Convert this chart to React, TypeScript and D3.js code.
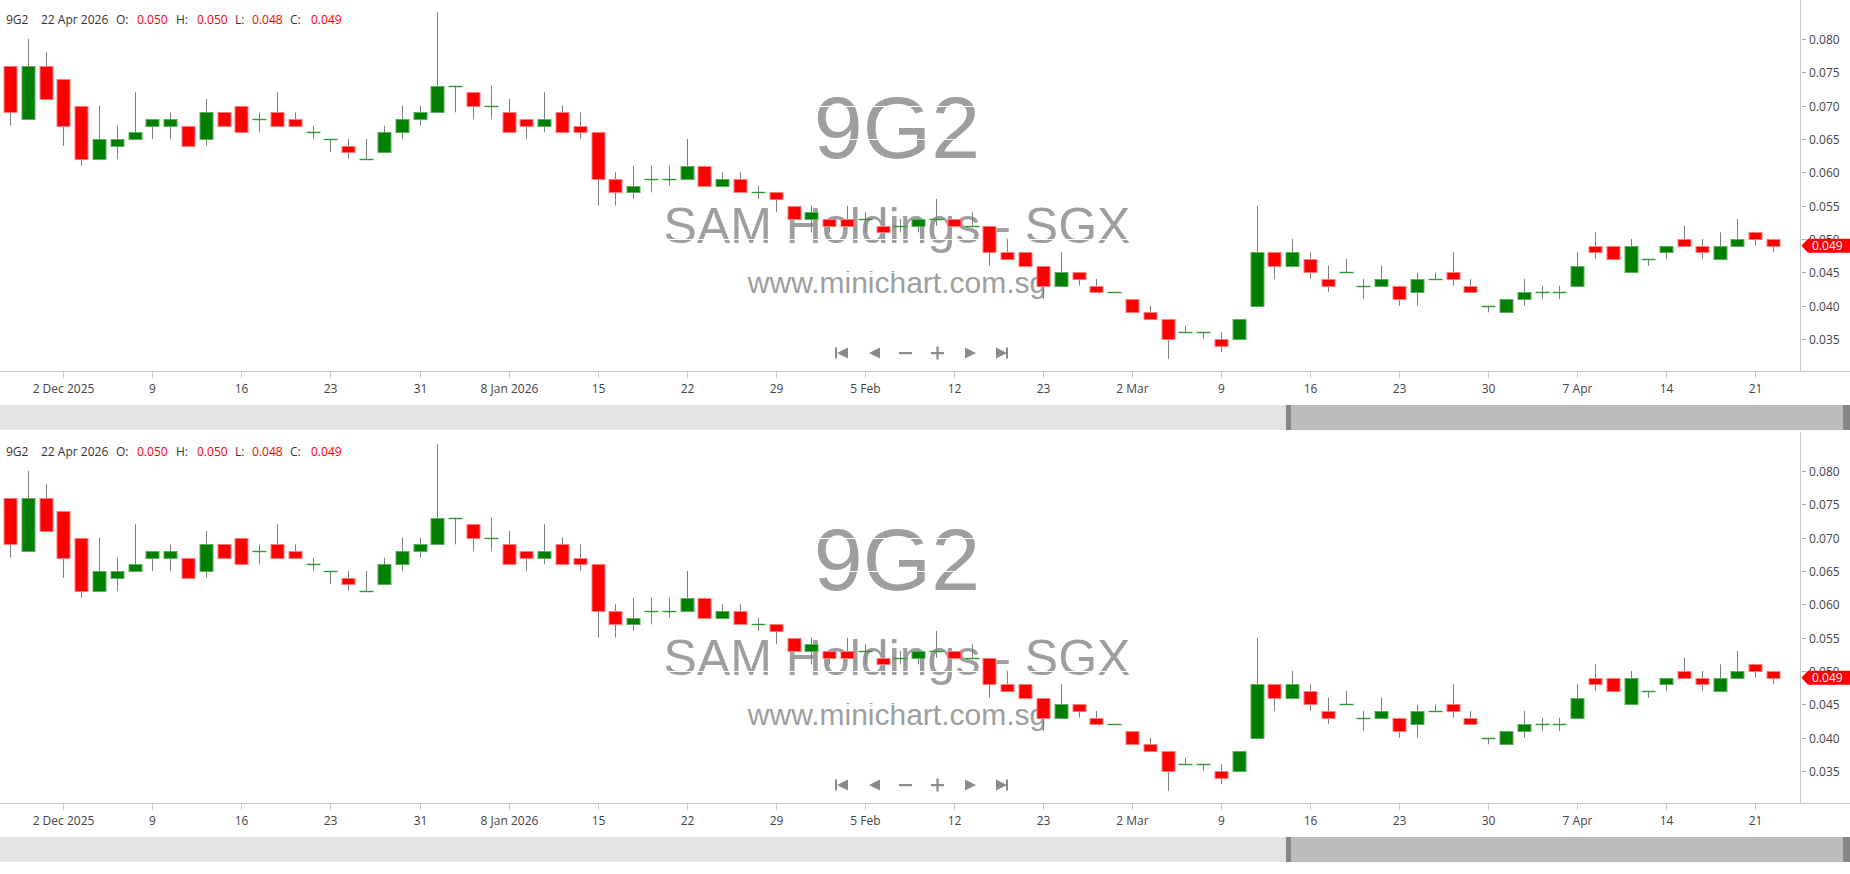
import React from "react";
import * as d3 from "d3";

// ---- Data ----
const dates: string[] = [
  "2025-11-27", "2025-11-28", "2025-12-01", "2025-12-02", "2025-12-03", "2025-12-04", "2025-12-05",
  "2025-12-08", "2025-12-09", "2025-12-10", "2025-12-11", "2025-12-12", "2025-12-15", "2025-12-16",
  "2025-12-17", "2025-12-18", "2025-12-19", "2025-12-22", "2025-12-23", "2025-12-24", "2025-12-26",
  "2025-12-29", "2025-12-30", "2025-12-31", "2026-01-02", "2026-01-05", "2026-01-06", "2026-01-07",
  "2026-01-08", "2026-01-09", "2026-01-12", "2026-01-13", "2026-01-14", "2026-01-15", "2026-01-16",
  "2026-01-19", "2026-01-20", "2026-01-21", "2026-01-22", "2026-01-23", "2026-01-26", "2026-01-27",
  "2026-01-28", "2026-01-29", "2026-01-30", "2026-02-02", "2026-02-03", "2026-02-04", "2026-02-05",
  "2026-02-06", "2026-02-09", "2026-02-10", "2026-02-11", "2026-02-12", "2026-02-13", "2026-02-16",
  "2026-02-19", "2026-02-20", "2026-02-23", "2026-02-24", "2026-02-25", "2026-02-26", "2026-02-27",
  "2026-03-02", "2026-03-03", "2026-03-04", "2026-03-05", "2026-03-06", "2026-03-09", "2026-03-10",
  "2026-03-11", "2026-03-12", "2026-03-13", "2026-03-16", "2026-03-17", "2026-03-18", "2026-03-19",
  "2026-03-20", "2026-03-23", "2026-03-24", "2026-03-25", "2026-03-26", "2026-03-27", "2026-03-30",
  "2026-03-31", "2026-04-01", "2026-04-02", "2026-04-06", "2026-04-07", "2026-04-08", "2026-04-09",
  "2026-04-10", "2026-04-13", "2026-04-14", "2026-04-15", "2026-04-16", "2026-04-17", "2026-04-20",
  "2026-04-21", "2026-04-22",
];

const open: number[] = [
  0.076, 0.068, 0.076, 0.074, 0.070, 0.062, 0.064, 0.065, 0.067, 0.067,
  0.067, 0.065, 0.069, 0.070, 0.068, 0.069, 0.068, 0.066, 0.065, 0.064,
  0.062, 0.063, 0.066, 0.068, 0.069, 0.073, 0.072, 0.070, 0.069, 0.068,
  0.067, 0.069, 0.067, 0.066, 0.059, 0.057, 0.059, 0.059, 0.059, 0.061,
  0.058, 0.059, 0.057, 0.057, 0.055, 0.053, 0.053, 0.053, 0.053, 0.052,
  0.052, 0.052, 0.053, 0.053, 0.052, 0.052, 0.048, 0.048, 0.046, 0.043,
  0.045, 0.043, 0.042, 0.041, 0.039, 0.038, 0.036, 0.036, 0.035, 0.035,
  0.040, 0.048, 0.046, 0.047, 0.044, 0.045, 0.043, 0.043, 0.043, 0.042,
  0.044, 0.045, 0.043, 0.040, 0.039, 0.041, 0.042, 0.042, 0.043, 0.049,
  0.049, 0.045, 0.047, 0.048, 0.050, 0.049, 0.047, 0.049, 0.051, 0.050,
];
const high: number[] = [
  0.076, 0.080, 0.078, 0.074, 0.070, 0.070, 0.067, 0.072, 0.068, 0.069,
  0.067, 0.071, 0.069, 0.070, 0.069, 0.072, 0.069, 0.067, 0.065, 0.065,
  0.065, 0.067, 0.070, 0.070, 0.084, 0.073, 0.072, 0.073, 0.071, 0.068,
  0.072, 0.070, 0.069, 0.066, 0.060, 0.061, 0.061, 0.061, 0.065, 0.061,
  0.060, 0.060, 0.058, 0.057, 0.055, 0.055, 0.053, 0.055, 0.054, 0.052,
  0.053, 0.053, 0.056, 0.053, 0.054, 0.052, 0.050, 0.048, 0.046, 0.048,
  0.045, 0.044, 0.042, 0.041, 0.040, 0.038, 0.037, 0.036, 0.036, 0.038,
  0.055, 0.048, 0.050, 0.048, 0.046, 0.047, 0.044, 0.046, 0.043, 0.045,
  0.045, 0.048, 0.044, 0.040, 0.041, 0.044, 0.043, 0.043, 0.048, 0.051,
  0.049, 0.050, 0.047, 0.049, 0.052, 0.050, 0.051, 0.053, 0.051, 0.050,
];
const low: number[] = [
  0.067, 0.068, 0.071, 0.064, 0.061, 0.062, 0.062, 0.065, 0.065, 0.065,
  0.064, 0.064, 0.067, 0.066, 0.066, 0.067, 0.067, 0.065, 0.063, 0.062,
  0.062, 0.063, 0.065, 0.067, 0.069, 0.069, 0.068, 0.068, 0.066, 0.065,
  0.066, 0.066, 0.065, 0.055, 0.055, 0.056, 0.057, 0.058, 0.059, 0.058,
  0.058, 0.057, 0.056, 0.054, 0.053, 0.051, 0.051, 0.052, 0.051, 0.051,
  0.051, 0.051, 0.052, 0.052, 0.052, 0.046, 0.047, 0.046, 0.041, 0.043,
  0.043, 0.042, 0.042, 0.039, 0.038, 0.032, 0.036, 0.035, 0.033, 0.035,
  0.040, 0.044, 0.046, 0.044, 0.042, 0.045, 0.041, 0.043, 0.040, 0.040,
  0.044, 0.043, 0.042, 0.039, 0.039, 0.040, 0.041, 0.041, 0.043, 0.047,
  0.047, 0.045, 0.046, 0.047, 0.049, 0.047, 0.047, 0.049, 0.049, 0.048,
];
const close: number[] = [
  0.069, 0.076, 0.071, 0.067, 0.062, 0.065, 0.065, 0.066, 0.068, 0.068,
  0.064, 0.069, 0.067, 0.066, 0.068, 0.067, 0.067, 0.066, 0.065, 0.063,
  0.062, 0.066, 0.068, 0.069, 0.073, 0.073, 0.070, 0.070, 0.066, 0.067,
  0.068, 0.066, 0.066, 0.059, 0.057, 0.058, 0.059, 0.059, 0.061, 0.058,
  0.059, 0.057, 0.057, 0.056, 0.053, 0.054, 0.052, 0.052, 0.053, 0.051,
  0.052, 0.053, 0.053, 0.052, 0.052, 0.048, 0.047, 0.046, 0.043, 0.045,
  0.044, 0.042, 0.042, 0.039, 0.038, 0.035, 0.036, 0.036, 0.034, 0.038,
  0.048, 0.046, 0.048, 0.045, 0.043, 0.045, 0.043, 0.044, 0.041, 0.044,
  0.044, 0.044, 0.042, 0.040, 0.041, 0.042, 0.042, 0.042, 0.046, 0.048,
  0.047, 0.049, 0.047, 0.049, 0.049, 0.048, 0.049, 0.050, 0.050, 0.049,
];

const yTicks: number[] = [0.035, 0.04, 0.045, 0.05, 0.055, 0.06, 0.065, 0.07, 0.075, 0.08];
const xTickDates: string[] = [
  "2025-12-02", "2025-12-09", "2025-12-16", "2025-12-23", "2025-12-31", "2026-01-08", "2026-01-15",
  "2026-01-22", "2026-01-29", "2026-02-05", "2026-02-12", "2026-02-23", "2026-03-02", "2026-03-09",
  "2026-03-16", "2026-03-23", "2026-03-30", "2026-04-07", "2026-04-14", "2026-04-21",
];
const xTickLabels: string[] = [
  "2 Dec 2025", "9", "16", "23", "31", "8 Jan 2026", "15", "22", "29", "5 Feb", "12", "23",
  "2 Mar", "9", "16", "23", "30", "7 Apr", "14", "21",
];

const symbol = "9G2";
const companyName = "SAM Holdings - SGX";
const website = "www.minichart.com.sg";

// ---- Layout ----
const W = 1850;
const H = 874;
const PANEL_H = 432;
const PLOT_RIGHT = 1800;
const AXIS_Y = 371;
const UI_FONT = "'Open Sans', 'Noto Sans', sans-serif";
const WM_FONT = "'Liberation Sans', Arial, sans-serif";
const RED = "#ff0000";
const GREEN = "#008000";

const x = d3.scaleLinear().domain([0, dates.length - 1]).range([9.9, 1773.1]);
const y = d3.scaleLinear().domain([0.035, 0.08]).range([339, 39]);
const fmt = d3.format(".3f");
const parse = d3.timeParse("%Y-%m-%d");
const headerDate = d3.timeFormat("%-d %b %Y");

function Panel({ offsetY, id }: { offsetY: number; id: string }) {
  const n = dates.length;
  const last = n - 1;
  const bodyW = 13;
  const lastY = y(close[last]);
  const clipId = `clip-${id}`;
  return (
    <g transform={`translate(0,${offsetY})`}>
      <defs>
        <clipPath id={clipId}>
          <rect x={0} y={0} width={PLOT_RIGHT} height={AXIS_Y} />
        </clipPath>
      </defs>

      {/* watermark */}
      <g fill="#9e9e9e" fontFamily={WM_FONT} textAnchor="middle">
        <text x={897} y={158} fontSize={88}>{symbol}</text>
        <text x={897} y={243} fontSize={50}>{companyName}</text>
        <text x={897} y={293} fontSize={30}>{website}</text>
      </g>
      {/* white gridlines (visible only over watermark) */}
      <g stroke="#ffffff" strokeWidth={1}>
        {yTicks.map((t) => (
          <line key={t} x1={0} x2={PLOT_RIGHT} y1={Math.round(y(t)) + 0.5} y2={Math.round(y(t)) + 0.5} />
        ))}
      </g>

      {/* candles */}
      <g clipPath={`url(#${clipId})`}>
        {dates.map((d, i) => {
          const cx = Math.round(x(i)) + 0.5;
          return (
            <line key={`w${i}`} x1={cx} x2={cx} y1={y(high[i])} y2={y(low[i])} stroke="#7d7d7d" strokeWidth={1} />
          );
        })}
        {dates.map((d, i) => {
          const cx = Math.round(x(i));
          const o = open[i];
          const c = close[i];
          if (o === c) {
            const yy = Math.round(y(o)) + 0.5;
            return (
              <line key={`b${i}`} x1={cx - 6.5} x2={cx + 7.5} y1={yy} y2={yy} stroke="#2f9a2f" strokeWidth={1.4} />
            );
          }
          const up = c > o;
          const top = Math.round(y(Math.max(o, c)));
          const bot = Math.round(y(Math.min(o, c)));
          return (
            <rect
              key={`b${i}`}
              x={cx - 6}
              y={top + 0.5}
              width={bodyW}
              height={Math.max(1, bot - top)}
              fill={up ? GREEN : RED}
              stroke={up ? "#5fae5f" : "#ff7a7a"}
              strokeWidth={1}
            />
          );
        })}
      </g>

      {/* header */}
      <text y={23.5} fontFamily={UI_FONT} fontSize={12} fill="#333">
        <tspan x={6}>{symbol}</tspan>
        <tspan x={41}>{headerDate(parse(dates[last]) as Date)}</tspan>
        <tspan x={116}>O:</tspan>
        <tspan x={137} fill={RED}>{fmt(open[last])}</tspan>
        <tspan x={176}>H:</tspan>
        <tspan x={197} fill={RED}>{fmt(high[last])}</tspan>
        <tspan x={235}>L:</tspan>
        <tspan x={252} fill={RED}>{fmt(low[last])}</tspan>
        <tspan x={290}>C:</tspan>
        <tspan x={311} fill={RED}>{fmt(close[last])}</tspan>
      </text>

      {/* navigation buttons */}
      <g fill="#8a8a8a" stroke="none" transform="translate(0,353)">
        <rect x={835} y={-5.5} width={2} height={11} />
        <path d="M837,0 L848,-5.5 L848,5.5 Z" />
        <path d="M869,0 L880,-5.5 L880,5.5 Z" />
        <rect x={899} y={-1} width={13} height={2.2} />
        <rect x={931} y={-1} width={13} height={2.2} />
        <rect x={936.4} y={-6.5} width={2.2} height={13} />
        <path d="M965,-5.5 L976,0 L965,5.5 Z" />
        <path d="M996,-5.5 L1007,0 L996,5.5 Z" />
        <rect x={1006} y={-5.5} width={2} height={11} />
      </g>

      {/* axes */}
      <line x1={0} x2={W} y1={AXIS_Y + 0.5} y2={AXIS_Y + 0.5} stroke="#c8c8c8" />
      <line x1={PLOT_RIGHT + 0.5} x2={PLOT_RIGHT + 0.5} y1={0} y2={AXIS_Y} stroke="#c8c8c8" />

      {/* x ticks */}
      <g fontFamily={UI_FONT} fontSize={12} fill="#444" textAnchor="middle">
        {xTickDates.map((td, k) => {
          const idx = dates.indexOf(td);
          const tx = Math.round(x(idx)) + 0.5;
          return (
            <g key={td}>
              <line x1={tx} x2={tx} y1={AXIS_Y + 1} y2={AXIS_Y + 7} stroke="#c8c8c8" />
              <text x={tx} y={393}>{xTickLabels[k]}</text>
            </g>
          );
        })}
      </g>

      {/* y ticks */}
      <g fontFamily={UI_FONT} fontSize={12} fill="#444">
        {yTicks.map((t) => {
          const ty = Math.round(y(t)) + 0.5;
          return (
            <g key={t}>
              <line x1={1802} x2={1806} y1={ty} y2={ty} stroke="#aaaaaa" />
              <text x={1809} y={ty + 4.2}>{fmt(t)}</text>
            </g>
          );
        })}
      </g>

      {/* last price marker */}
      <path
        d={`M1801.5,${lastY} L1808,${lastY - 7} L${W},${lastY - 7} L${W},${lastY + 7} L1808,${lastY + 7} Z`}
        fill={RED}
      />
      <text x={1812} y={lastY + 4.3} fontFamily={UI_FONT} fontSize={12} fill="#ffffff">
        {fmt(close[last])}
      </text>

      {/* scrollbar */}
      <rect x={0} y={405} width={W} height={25} fill="#e3e3e3" />
      <rect x={1286} y={405} width={W - 1286} height={25} fill="#bcbcbc" />
      <rect x={1286} y={405} width={5} height={25} fill="#858585" />
      <rect x={1843} y={405} width={7} height={25} fill="#858585" />
    </g>
  );
}

export default function App() {
  return (
    <div style={{ position: "absolute", left: 0, top: 0, width: W, height: H, background: "#fff" }}>
      <svg width={W} height={H} style={{ display: "block" }}>
        <rect x={0} y={0} width={W} height={H} fill="#ffffff" />
        <Panel offsetY={0} id="a" />
        <Panel offsetY={PANEL_H} id="b" />
      </svg>
    </div>
  );
}
